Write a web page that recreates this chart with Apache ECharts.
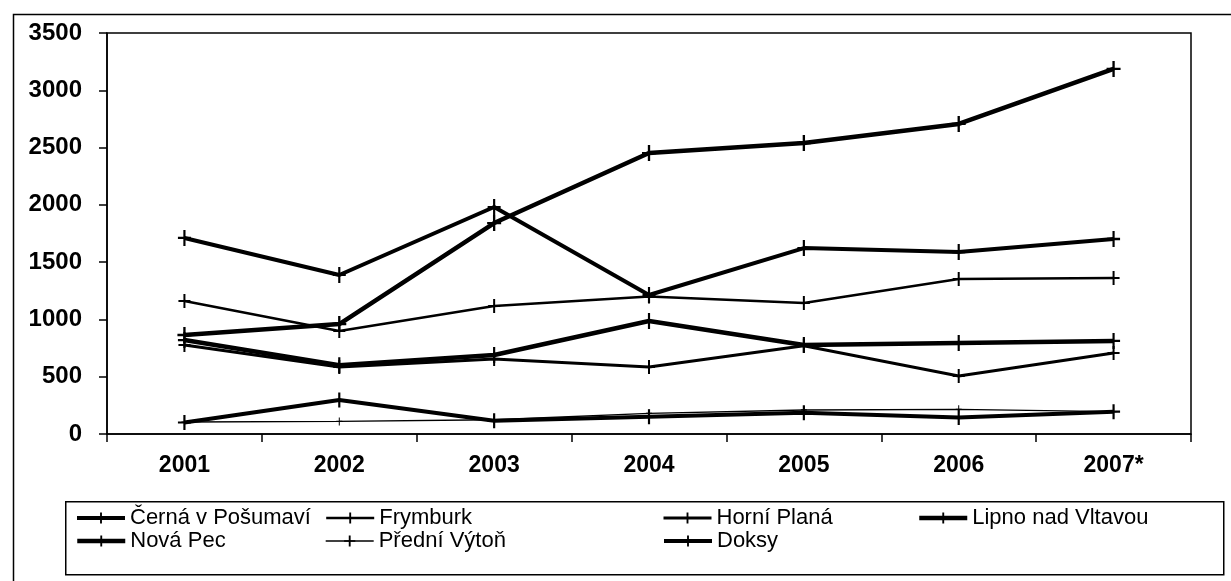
<!DOCTYPE html>
<html>
<head>
<meta charset="utf-8">
<script src="https://cdn.jsdelivr.net/npm/echarts@6/dist/echarts.min.js"></script>
<style>
html,body{margin:0;padding:0;background:#fff;}
#chart{width:1231px;height:581px;}
</style>
</head>
<body>
<div id="chart"></div>
<script>
var years = ['2001','2002','2003','2004','2005','2006','2007*'];
var yTicks = [0, 500, 1000, 1500, 2000, 2500, 3000, 3500];

var cernaVPosumavi = [1711, 1388, 1981, 1213, 1623, 1588, 1702];
var frymburk       = [1161, 899, 1117, 1200, 1143, 1353, 1362];
var horniPlana     = [777, 585, 655, 585, 770, 506, 707];
var lipnoNadVltavou= [864, 960, 1841, 2452, 2540, 2706, 3186];
var novaPec        = [820, 600, 690, 986, 777, 794, 812];
var predniVyton    = [105, 110, 125, 180, 210, 215, 195];
var doksy          = [100, 297, 115, 150, 185, 145, 195];

var seriesNames = ['Černá v Pošumaví','Frymburk','Horní Planá','Lipno nad Vltavou','Nová Pec','Přední Výtoň','Doksy'];
var seriesData = [cernaVPosumavi, frymburk, horniPlana, lipnoNadVltavou, novaPec, predniVyton, doksy];

var widths = [4, 2.4, 3, 4.5, 4.5, 1.4, 4];
var markSizes = [[13,16],[12,14],[12,14],[14,16],[13,16],[6,8],[13,15]];
var plusPath = 'path://M5,0H7V6H12V8H7V14H5V8H0V6H5Z';

var FONT = '"Liberation Sans", Arial, sans-serif';

var chart = echarts.init(document.getElementById('chart'), null, {renderer:'canvas'});

var series = seriesNames.map(function(n, i){
  return {
    name: n,
    type: 'line',
    data: seriesData[i],
    symbol: plusPath,
    symbolSize: markSizes[i],
    showSymbol: true,
    lineStyle: {color:'#000', width: widths[i]},
    itemStyle: {color:'#000'},
    emphasis: {disabled:true},
    z: 3
  };
});

var legendPos = [
  [75, 507], [325, 507], [662, 507], [917, 507],
  [75, 530], [325, 530], [662, 530]
];
var legends = seriesNames.map(function(n, i){
  return {
    data: [n],
    left: legendPos[i][0],
    top: legendPos[i][1],
    padding: 0,
    orient: 'horizontal',
    itemWidth: 48,
    itemHeight: 14,
    itemGap: 0,
    selectedMode: false,
    lineStyle: {width: widths[i], color:'#000'},
    textStyle: {color:'#000', fontSize: 22, fontFamily: FONT, lineHeight: 22}
  };
});

var option = {
  animation: false,
  backgroundColor: '#fff',
  grid: {left:107, top:33, right:40, bottom:147, show:true, borderColor:'#000', borderWidth:1.5, backgroundColor:'#fff'},
  legend: legends,
  graphic: [
    {type:'rect', left:11, top:12, shape:{width:1250, height:600}, style:{fill:'none', stroke:'#000', lineWidth:1.5}, silent:true, z:-1},
    {type:'rect', left:65, top:501, shape:{width:1158, height:73}, style:{fill:'#fff', stroke:'#000', lineWidth:1.5}, silent:true, z:0}
  ],
  xAxis: {
    type:'category',
    data: years,
    boundaryGap: true,
    axisLine:{show:true, lineStyle:{color:'#000', width:1.5}},
    axisTick:{show:true, length:8, lineStyle:{color:'#000', width:1.5}},
    axisLabel:{color:'#000', fontSize:23, fontWeight:'bold', fontFamily:FONT, margin:20},
    splitLine:{show:false}
  },
  yAxis: {
    type:'value',
    min: yTicks[0],
    max: yTicks[yTicks.length-1],
    interval: 500,
    axisLine:{show:true, lineStyle:{color:'#000', width:1.5}},
    axisTick:{show:true, length:8, lineStyle:{color:'#000', width:1.5}},
    axisLabel:{color:'#000', fontSize:24, fontWeight:'bold', fontFamily:FONT, margin:25,
      formatter: function(v){ return String(v); }},
    splitLine:{show:false}
  },
  series: series
};
chart.setOption(option);
</script>
</body>
</html>
